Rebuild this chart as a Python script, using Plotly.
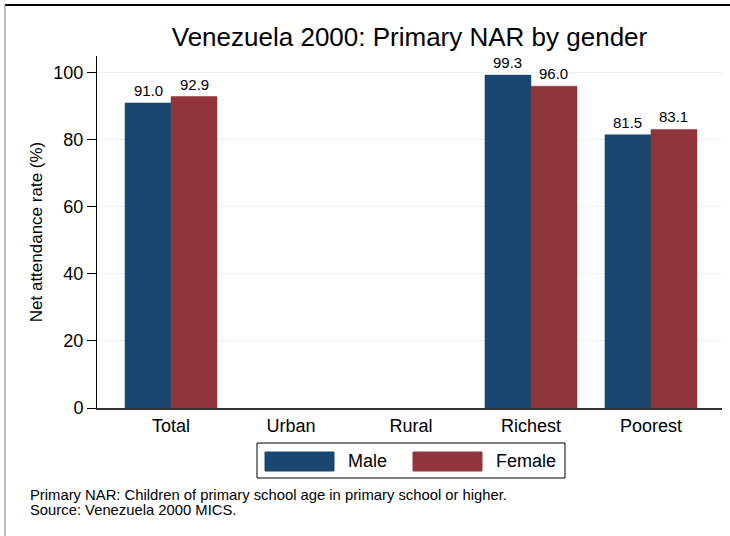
import plotly.graph_objects as go

categories = ["Total", "Urban", "Rural", "Richest", "Poorest"]
male = [91.0, None, None, 99.3, 81.5]
female = [92.9, None, None, 96.0, 83.1]
series_names = ["Male", "Female"]
y_ticks = [0, 20, 40, 60, 80, 100]
title_text = "Venezuela 2000: Primary NAR by gender"
y_title = "Net attendance rate (%)"
note_lines = ["Primary NAR: Children of primary school age in primary school or higher.",
              "Source: Venezuela 2000 MICS."]

colors = ["#1a476f", "#90353b"]
FONT = "Liberation Sans, Arial, sans-serif"

fig = go.Figure()
for name, vals, col in zip(series_names, [male, female], colors):
    fig.add_trace(go.Bar(
        x=categories, y=vals, name=name,
        marker=dict(color=col, line=dict(color=col, width=0.5)),
        showlegend=False,
    ))

# plot area in pixels: x 97..722, y 56..408
L, R, T, B = 97, 8, 56, 128
W, H = 730, 536
pw, ph = W - L - R, H - T - B

def px_x(x):
    return (x - L) / pw

def px_y(y):
    return (H - B - y) / ph

# value labels above bars (placed via the data scale, shifted to each bar's centre)
for vals, dx in zip([male, female], [-23, 23]):
    for c, v in zip(categories, vals):
        if v is None:
            continue
        fig.add_annotation(x=c, y=v, text=f"{v:.1f}", showarrow=False,
                           xshift=dx, yshift=3, yanchor="bottom", borderpad=0,
                           font=dict(size=15, family=FONT, color="black"))

fig.update_layout(
    width=W, height=H,
    margin=dict(l=L, r=R, t=T, b=B, pad=0),
    paper_bgcolor="white", plot_bgcolor="white",
    font=dict(family=FONT, color="black"),
    barmode="group", bargap=0.233, bargroupgap=0,
    title=dict(text=title_text, x=px_x(409.5), xref="paper", xanchor="center",
               y=1 - 37 / H, yanchor="middle",
               font=dict(size=26, family=FONT, color="black")),
    showlegend=False,
    xaxis=dict(type="category", range=[-0.617, 4.592], showgrid=False,
               showline=True, linecolor="#333333", linewidth=1.5,
               ticks="outside", ticklen=1, tickcolor="rgba(0,0,0,0)",
               tickfont=dict(size=18, family=FONT, color="black"), zeroline=False),
    yaxis=dict(range=[0, 105], tickvals=y_ticks, showgrid=True, gridcolor="#eaf2f3", gridwidth=1,
               showline=True, linecolor="black", linewidth=1,
               ticks="outside", ticklen=9, tickcolor="black",
               tickfont=dict(size=18, family=FONT, color="black"), zeroline=False,
               title=dict(text=y_title, font=dict(size=17, family=FONT, color="black"), standoff=6)),
)

# notes
for i, line in enumerate(note_lines):
    fig.add_annotation(text=line, xref="paper", yref="paper",
                       x=px_x(28), y=px_y(495 + 15 * i), xanchor="left", yanchor="middle", align="left",
                       showarrow=False, font=dict(size=14.8, family=FONT, color="black"))

# legend (drawn box with wide swatches, as in the reference)
fig.add_shape(type="rect", xref="paper", yref="paper",
              x0=px_x(257), x1=px_x(565), y0=px_y(443), y1=px_y(478),
              line=dict(color="black", width=1), fillcolor="white", layer="above")
sw_x = [265, 413]
txt_x = [346, 494]
for name, col, sx, tx in zip(series_names, colors, sw_x, txt_x):
    fig.add_shape(type="rect", xref="paper", yref="paper",
                  x0=px_x(sx), x1=px_x(sx + 69), y0=px_y(452), y1=px_y(471),
                  line=dict(color=col, width=1), fillcolor=col, layer="above")
    fig.add_annotation(text=name, xref="paper", yref="paper", x=px_x(tx), y=px_y(461.5),
                       xanchor="left", yanchor="middle", showarrow=False,
                       font=dict(size=18, family=FONT, color="black"))

# outer frame lines (top and left)
fig.add_shape(type="line", xref="paper", yref="paper", x0=px_x(5), x1=px_x(730), y0=px_y(5), y1=px_y(5),
              line=dict(color="black", width=2))
fig.add_shape(type="line", xref="paper", yref="paper", x0=px_x(5), x1=px_x(5), y0=px_y(5), y1=px_y(536),
              line=dict(color="#777777", width=1))

fig.write_html("out.html", config={"displayModeBar": False},
               post_script="document.body.style.margin='0';document.body.style.overflow='hidden';")
